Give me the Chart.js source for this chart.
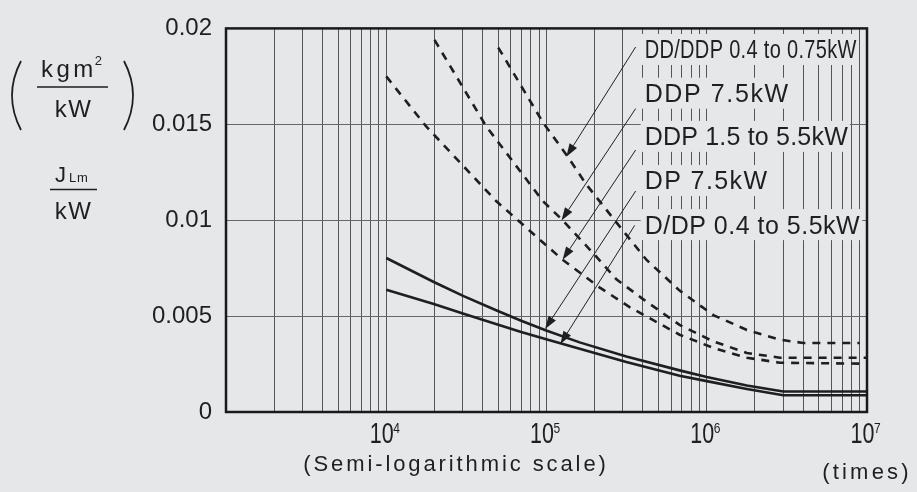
<!DOCTYPE html>
<html>
<head>
<meta charset="utf-8">
<script src="https://cdn.jsdelivr.net/npm/chart.js@4.4.1/dist/chart.umd.min.js"></script>
<style>
  html, body { margin: 0; padding: 0; background: #e6e7e9; }
  #wrap { width: 917px; height: 492px; }
</style>
</head>
<body>
<div id="wrap"><canvas id="chart" width="917" height="492"></canvas></div>
<script>
// curve labels (top to bottom in the legend column)
const seriesLabels = ['DD/DDP 0.4 to 0.75kW', 'DDP 7.5kW', 'DDP 1.5 to 5.5kW', 'DP 7.5kW', 'D/DP 0.4 to 5.5kW'];

// DD/DDP 0.4 to 0.75kW (dashed)
const ddSmallX = [50000, 95000, 136000, 177000, 266000, 420000, 677000, 1100000, 1780000, 2860000, 4000000, 9000000];
const ddSmallY = [0.0190, 0.0151, 0.0133, 0.01187, 0.0100, 0.00794, 0.00633, 0.00505, 0.00428, 0.00377, 0.0036, 0.0036];

// DDP 7.5kW (dashed)
const ddp75X = [20000, 42000, 94800, 126000, 195000, 273000, 398000, 677000, 1100000, 1780000, 2860000, 10000000];
const ddp75Y = [0.0194, 0.0149, 0.0110, 0.0100, 0.00829, 0.00692, 0.0059, 0.00454, 0.00368, 0.00308, 0.00283, 0.00283];

// DDP 1.5 to 5.5kW (dashed)
const ddpMidX = [10000, 17700, 48500, 90400, 126000, 214000, 330000, 677000, 1100000, 1780000, 2860000, 9000000];
const ddpMidY = [0.0175, 0.0149, 0.0110, 0.0090, 0.00794, 0.0065, 0.00547, 0.00403, 0.00334, 0.00283, 0.00257, 0.00252];

// DP 7.5kW (solid)
const dp75X = [10000, 19800, 30400, 48900, 69500, 99600, 161000, 315000, 677000, 1000000, 1780000, 3000000, 10000000];
const dp75Y = [0.00803, 0.00678, 0.00604, 0.00529, 0.00476, 0.00425, 0.00363, 0.00289, 0.00217, 0.00182, 0.00138, 0.00107, 0.00107];

// D/DP 0.4 to 5.5kW (solid)
const dSmallX = [10000, 19800, 30400, 48900, 69500, 99600, 161000, 315000, 677000, 1000000, 1780000, 3000000, 10000000];
const dSmallY = [0.00638, 0.00563, 0.00512, 0.00458, 0.00417, 0.00379, 0.0033, 0.00261, 0.00189, 0.00161, 0.0012, 0.00087, 0.00087];

// axis ticks
const yTickValues = [0, 0.005, 0.01, 0.015, 0.02];
const xLabelValues = [1e4, 1e5, 1e6, 1e7];
const xLabelExponents = ['4', '5', '6', '7'];

// label column and arrows, in data units
const labelX = 410000;
const labelY = [0.0189, 0.01662, 0.01437, 0.01207, 0.00977];
const arrowFromX = [360000, 360000, 360000, 360000, 355000];
const arrowFromY = [0.01903, 0.01582, 0.01366, 0.01152, 0.00973];
const arrowToX = [133000, 124000, 126000, 98000, 122000];
const arrowToY = [0.01331, 0.00999, 0.00794, 0.00433, 0.00354];

const FONT = '"Liberation Sans", Arial, sans-serif';
const INK = '#1f1f1f';
const BG = '#e6e7e9';

// grid positions 1..9 x 10^k
const xGridValues = [];
for (let k = 3; k < 7; k++) {
    for (let m = 1; m < 10; m++) xGridValues.push(m * Math.pow(10, k));
}
xGridValues.push(1e7);

function zip(xs, ys) {
    return xs.map((x, i) => ({ x: x, y: ys[i] }));
}

function lineSet(xs, ys, dashed) {
    return {
        data: zip(xs, ys),
        borderColor: INK,
        borderWidth: 2.6,
        borderDash: dashed ? [8, 7] : [],
        pointRadius: 0,
        fill: false,
        tension: 0
    };
}

function drawArrow(ctx, x1, y1, x2, y2) {
    const ang = Math.atan2(y2 - y1, x2 - x1);
    const len = 13, half = 4.4;
    const bx = x2 - len * Math.cos(ang);
    const by = y2 - len * Math.sin(ang);
    ctx.beginPath();
    ctx.moveTo(x1, y1);
    ctx.lineTo(bx, by);
    ctx.stroke();
    ctx.beginPath();
    ctx.moveTo(x2, y2);
    ctx.lineTo(bx + half * Math.sin(ang), by - half * Math.cos(ang));
    ctx.lineTo(bx - half * Math.sin(ang), by + half * Math.cos(ang));
    ctx.closePath();
    ctx.fill();
}

function spacedText(ctx, text, x, y, spacing, align) {
    ctx.letterSpacing = spacing + 'px';
    let w = ctx.measureText(text).width;
    let sx = x;
    if (align === 'center') sx = x - w / 2;
    if (align === 'right') sx = x - w;
    ctx.textAlign = 'left';
    ctx.fillText(text, sx, y);
    ctx.letterSpacing = '0px';
    return w;
}

const decorPlugin = {
    id: 'decor',
    afterDatasetsDraw(chart) {
        const ctx = chart.ctx;
        const xs = chart.scales.x, ys = chart.scales.y;
        const area = chart.chartArea;
        ctx.save();

        // labels with backgrounds hiding the grid
        const squeeze = [0.8, 1, 1, 1, 1];
        const spacing = [0.4, 1.6, 0.2, 1.4, 0.5];
        ctx.font = '25px ' + FONT;
        ctx.textBaseline = 'alphabetic';
        const lx = xs.getPixelForValue(labelX);
        seriesLabels.forEach((txt, i) => {
            const cy = ys.getPixelForValue(labelY[i]);
            ctx.letterSpacing = spacing[i] + 'px';
            const w = ctx.measureText(txt).width * squeeze[i];
            ctx.fillStyle = BG;
            ctx.fillRect(lx - 4, cy - 15.5, w + 6, 31);
            ctx.fillStyle = INK;
            ctx.save();
            ctx.translate(lx, cy + 9);
            ctx.scale(squeeze[i], 1);
            ctx.textAlign = 'left';
            ctx.fillText(txt, 0, 0);
            ctx.restore();
            ctx.letterSpacing = '0px';
        });

        // arrows
        ctx.strokeStyle = INK;
        ctx.fillStyle = INK;
        ctx.lineWidth = 1;
        for (let i = 0; i < arrowFromX.length; i++) {
            drawArrow(ctx,
                xs.getPixelForValue(arrowFromX[i]), ys.getPixelForValue(arrowFromY[i]),
                xs.getPixelForValue(arrowToX[i]), ys.getPixelForValue(arrowToY[i]));
        }

        // frame
        ctx.strokeStyle = '#1a1a1a';
        ctx.lineWidth = 2.5;
        ctx.strokeRect(area.left, area.top, area.right - area.left, area.bottom - area.top);
        ctx.restore();
    },
    afterDraw(chart) {
        const ctx = chart.ctx;
        const xs = chart.scales.x;
        const area = chart.chartArea;
        ctx.save();
        ctx.fillStyle = INK;
        ctx.textBaseline = 'alphabetic';

        // x tick labels 10^n
        xLabelValues.forEach((v, i) => {
            const px = xs.getPixelForValue(v);
            ctx.save();
            ctx.translate(px - 4.5, area.bottom + 31);
            ctx.scale(0.74, 1);
            ctx.font = '29px ' + FONT;
            ctx.textAlign = 'center';
            ctx.fillText('10', 0, 0);
            ctx.restore();
            ctx.save();
            ctx.translate(px + 7, area.bottom + 21);
            ctx.scale(0.8, 1);
            ctx.font = '15px ' + FONT;
            ctx.textAlign = 'left';
            ctx.fillText(xLabelExponents[i], 0, 0);
            ctx.restore();
        });

        // x axis titles
        ctx.font = '22px ' + FONT;
        spacedText(ctx, '(Semi-logarithmic scale)', 456, 471, 2.9, 'center');
        spacedText(ctx, '(times)', 867, 479, 3.2, 'center');

        // y axis title: ( kgm2 / kW ) and JLm / kW
        ctx.font = '24px ' + FONT;
        const kw = spacedText(ctx, 'kgm', 41, 77, 3.5, 'left');
        ctx.font = '13px ' + FONT;
        ctx.fillText('2', 41 + kw - 2, 65);
        ctx.font = '24px ' + FONT;
        spacedText(ctx, 'kW', 73.5, 116.7, 1.5, 'center');
        spacedText(ctx, 'kW', 73.5, 218.5, 1.5, 'center');
        ctx.font = '22px ' + FONT;
        spacedText(ctx, 'J', 55, 181.7, 0, 'left');
        ctx.font = '13px ' + FONT;
        spacedText(ctx, 'Lm', 69, 181.7, 0.8, 'left');

        ctx.strokeStyle = INK;
        ctx.lineWidth = 1.6;
        ctx.beginPath();
        ctx.moveTo(37, 87); ctx.lineTo(108, 87);
        ctx.moveTo(50, 189.5); ctx.lineTo(97, 189.5);
        ctx.stroke();

        // parentheses
        ctx.lineWidth = 1.8;
        ctx.beginPath();
        ctx.moveTo(21, 61); ctx.quadraticCurveTo(3, 95.5, 21, 130);
        ctx.moveTo(124, 61); ctx.quadraticCurveTo(142, 95.5, 124, 130);
        ctx.stroke();
        ctx.restore();
    }
};

const ctx = document.getElementById('chart').getContext('2d');
new Chart(ctx, {
    type: 'line',
    data: {
        datasets: [
            lineSet(ddSmallX, ddSmallY, true),
            lineSet(ddp75X, ddp75Y, true),
            lineSet(ddpMidX, ddpMidY, true),
            lineSet(dp75X, dp75Y, false),
            lineSet(dSmallX, dSmallY, false)
        ]
    },
    options: {
        responsive: false,
        animation: false,
        devicePixelRatio: 1,
        layout: { padding: { top: 21, right: 50, left: 0, bottom: 0 } },
        plugins: {
            legend: { display: false },
            tooltip: { enabled: false }
        },
        scales: {
            x: {
                type: 'logarithmic',
                min: 1000,
                max: 1e7,
                afterBuildTicks: function(scale) {
                    scale.ticks = xGridValues.map(v => ({ value: v }));
                },
                afterFit: function(scale) { scale.height = 80; },
                ticks: { display: false },
                grid: { color: '#555555', lineWidth: 1, drawTicks: false },
                border: { display: false }
            },
            y: {
                min: 0,
                max: 0.02,
                afterBuildTicks: function(scale) {
                    scale.ticks = yTickValues.map(v => ({ value: v }));
                },
                afterFit: function(scale) { scale.width = 226; },
                ticks: {
                    color: INK,
                    padding: 14,
                    font: { family: FONT, size: 24 },
                    callback: function(value) { return String(value); }
                },
                grid: { color: '#666666', lineWidth: 1, drawTicks: false },
                border: { display: false }
            }
        }
    },
    plugins: [decorPlugin]
});
</script>
</body>
</html>
